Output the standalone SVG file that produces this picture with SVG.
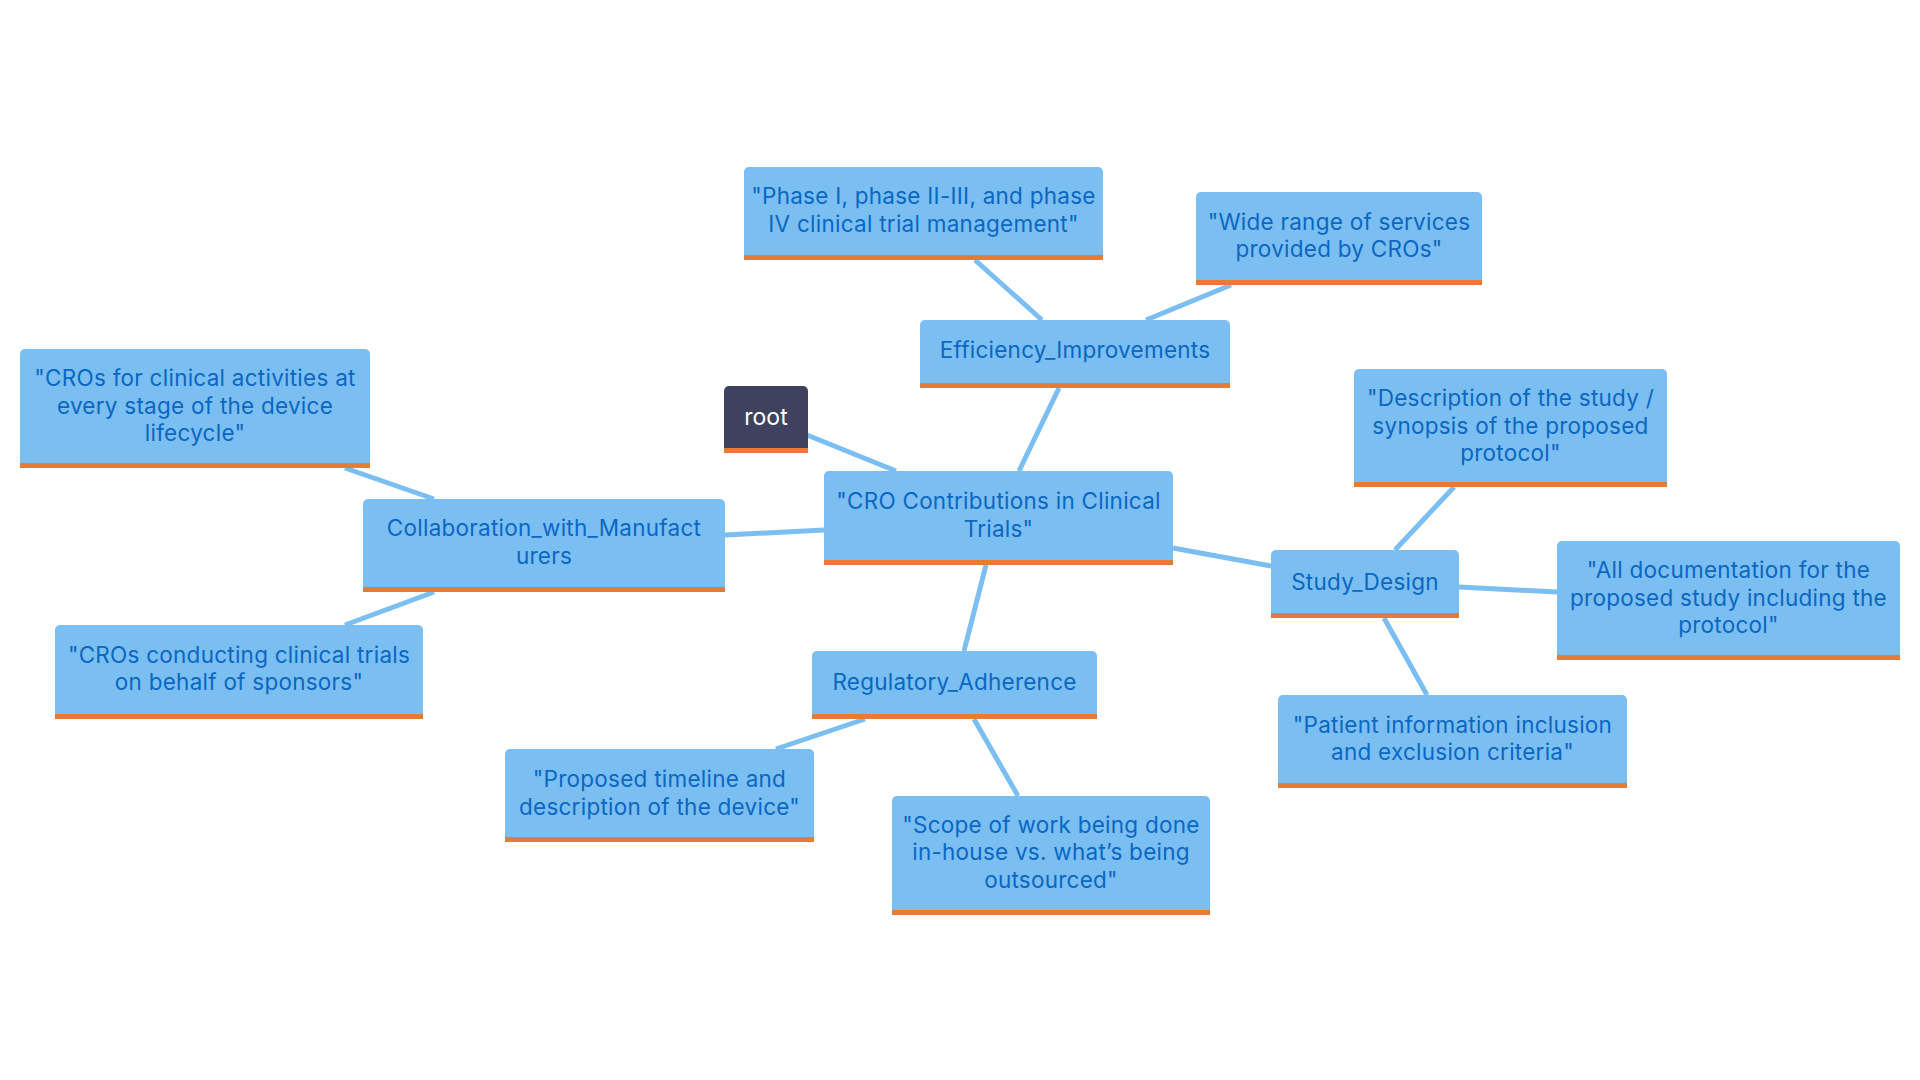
<svg xmlns="http://www.w3.org/2000/svg" width="1920" height="1080" viewBox="0 0 1920 1080">
<style>
.bg{fill:#ffffff}
.box{fill:#7BBEF1}
.dark{fill:#3E425E}
.stripe{fill:#E37C35}
.t{font-family:Inter,"Open Sans","Liberation Sans",sans-serif;font-size:22.5px;letter-spacing:0.25px;fill:#0A67C2;text-anchor:middle}
.tw{font-family:Inter,"Open Sans","Liberation Sans",sans-serif;font-size:23px;fill:#ffffff;text-anchor:middle}
.edge{stroke:#7BBEF1;stroke-width:5;fill:none;stroke-linecap:butt}
</style>
<rect class="bg" x="0" y="0" width="1920" height="1080"/>
<g id="connectors">
<line class="edge" x1="807" y1="435" x2="896" y2="471"/>
<line class="edge" x1="1059" y1="388" x2="1019" y2="471"/>
<line class="edge" x1="975" y1="260" x2="1042" y2="320"/>
<line class="edge" x1="1231" y1="285" x2="1146" y2="320"/>
<line class="edge" x1="824" y1="530" x2="725" y2="535"/>
<line class="edge" x1="345" y1="468" x2="434" y2="499"/>
<line class="edge" x1="434" y1="592" x2="345" y2="625"/>
<line class="edge" x1="986" y1="565" x2="964" y2="651"/>
<line class="edge" x1="865" y1="719" x2="776" y2="749"/>
<line class="edge" x1="974" y1="719" x2="1018" y2="796"/>
<line class="edge" x1="1173" y1="548" x2="1271" y2="566"/>
<line class="edge" x1="1395" y1="550" x2="1454" y2="487"/>
<line class="edge" x1="1459" y1="587" x2="1557" y2="592"/>
<line class="edge" x1="1384" y1="618" x2="1427" y2="695"/>
</g>
<g id="root">
<rect class="dark" x="724" y="386" width="84" height="67" rx="5"/>
<rect class="dark" x="724" y="440" width="84" height="13"/>
<rect class="stripe" x="724" y="448" width="84" height="5"/>
<text class="tw" x="766" y="425">root</text>
</g>
<g id="cro">
<rect class="box" x="824" y="471" width="349" height="94" rx="5"/>
<rect class="box" x="824" y="550" width="349" height="15"/>
<rect class="stripe" x="824" y="560" width="349" height="5"/>
<text class="t"><tspan x="998.5" y="509.3">"CRO Contributions in Clinical</tspan><tspan x="998.5" y="536.8">Trials"</tspan></text>
</g>
<g id="efficiency">
<rect class="box" x="920" y="320" width="310" height="68" rx="5"/>
<rect class="box" x="920" y="375" width="310" height="13"/>
<rect class="stripe" x="920" y="383" width="310" height="5"/>
<text class="t" x="1075" y="358">Efficiency_Improvements</text>
</g>
<g id="phase">
<rect class="box" x="744" y="167" width="359" height="93" rx="5"/>
<rect class="box" x="744" y="245" width="359" height="15"/>
<rect class="stripe" x="744" y="255" width="359" height="5"/>
<text class="t"><tspan x="923.5" y="204.3">"Phase I, phase II-III, and phase</tspan><tspan x="923.5" y="231.8">IV clinical trial management"</tspan></text>
</g>
<g id="wide">
<rect class="box" x="1196" y="192" width="286" height="93" rx="5"/>
<rect class="box" x="1196" y="270" width="286" height="15"/>
<rect class="stripe" x="1196" y="280" width="286" height="5"/>
<text class="t"><tspan x="1339" y="229.8">"Wide range of services</tspan><tspan x="1339" y="257.3">provided by CROs"</tspan></text>
</g>
<g id="collab">
<rect class="box" x="363" y="499" width="362" height="93" rx="5"/>
<rect class="box" x="363" y="577" width="362" height="15"/>
<rect class="stripe" x="363" y="587" width="362" height="5"/>
<text class="t"><tspan x="544" y="536.3">Collaboration_with_Manufact</tspan><tspan x="544" y="563.8">urers</tspan></text>
</g>
<g id="crosfor">
<rect class="box" x="20" y="349" width="350" height="119" rx="5"/>
<rect class="box" x="20" y="453" width="350" height="15"/>
<rect class="stripe" x="20" y="463" width="350" height="5"/>
<text class="t"><tspan x="195" y="386">"CROs for clinical activities at</tspan><tspan x="195" y="413.5">every stage of the device</tspan><tspan x="195" y="441">lifecycle"</tspan></text>
</g>
<g id="crosconducting">
<rect class="box" x="55" y="625" width="368" height="94" rx="5"/>
<rect class="box" x="55" y="704" width="368" height="15"/>
<rect class="stripe" x="55" y="714" width="368" height="5"/>
<text class="t"><tspan x="239" y="662.8">"CROs conducting clinical trials</tspan><tspan x="239" y="690.3">on behalf of sponsors"</tspan></text>
</g>
<g id="regulatory">
<rect class="box" x="812" y="651" width="285" height="68" rx="5"/>
<rect class="box" x="812" y="706" width="285" height="13"/>
<rect class="stripe" x="812" y="714" width="285" height="5"/>
<text class="t" x="954.5" y="690">Regulatory_Adherence</text>
</g>
<g id="proposed">
<rect class="box" x="505" y="749" width="309" height="93" rx="5"/>
<rect class="box" x="505" y="827" width="309" height="15"/>
<rect class="stripe" x="505" y="837" width="309" height="5"/>
<text class="t"><tspan x="659.5" y="787.3">"Proposed timeline and</tspan><tspan x="659.5" y="814.8">description of the device"</tspan></text>
</g>
<g id="scope">
<rect class="box" x="892" y="796" width="318" height="119" rx="5"/>
<rect class="box" x="892" y="900" width="318" height="15"/>
<rect class="stripe" x="892" y="910" width="318" height="5"/>
<text class="t"><tspan x="1051" y="832.5">"Scope of work being done</tspan><tspan x="1051" y="860">in-house vs. what’s being</tspan><tspan x="1051" y="887.5">outsourced"</tspan></text>
</g>
<g id="study">
<rect class="box" x="1271" y="550" width="188" height="68" rx="5"/>
<rect class="box" x="1271" y="605" width="188" height="13"/>
<rect class="stripe" x="1271" y="613" width="188" height="5"/>
<text class="t" x="1365" y="590">Study_Design</text>
</g>
<g id="description">
<rect class="box" x="1354" y="369" width="313" height="118" rx="5"/>
<rect class="box" x="1354" y="472" width="313" height="15"/>
<rect class="stripe" x="1354" y="482" width="313" height="5"/>
<text class="t"><tspan x="1510.5" y="406">"Description of the study /</tspan><tspan x="1510.5" y="433.5">synopsis of the proposed</tspan><tspan x="1510.5" y="461">protocol"</tspan></text>
</g>
<g id="alldoc">
<rect class="box" x="1557" y="541" width="343" height="119" rx="5"/>
<rect class="box" x="1557" y="645" width="343" height="15"/>
<rect class="stripe" x="1557" y="655" width="343" height="5"/>
<text class="t"><tspan x="1728.5" y="578">"All documentation for the</tspan><tspan x="1728.5" y="605.5">proposed study including the</tspan><tspan x="1728.5" y="633">protocol"</tspan></text>
</g>
<g id="patient">
<rect class="box" x="1278" y="695" width="349" height="93" rx="5"/>
<rect class="box" x="1278" y="773" width="349" height="15"/>
<rect class="stripe" x="1278" y="783" width="349" height="5"/>
<text class="t"><tspan x="1452.5" y="732.8">"Patient information inclusion</tspan><tspan x="1452.5" y="760.3">and exclusion criteria"</tspan></text>
</g>
</svg>
